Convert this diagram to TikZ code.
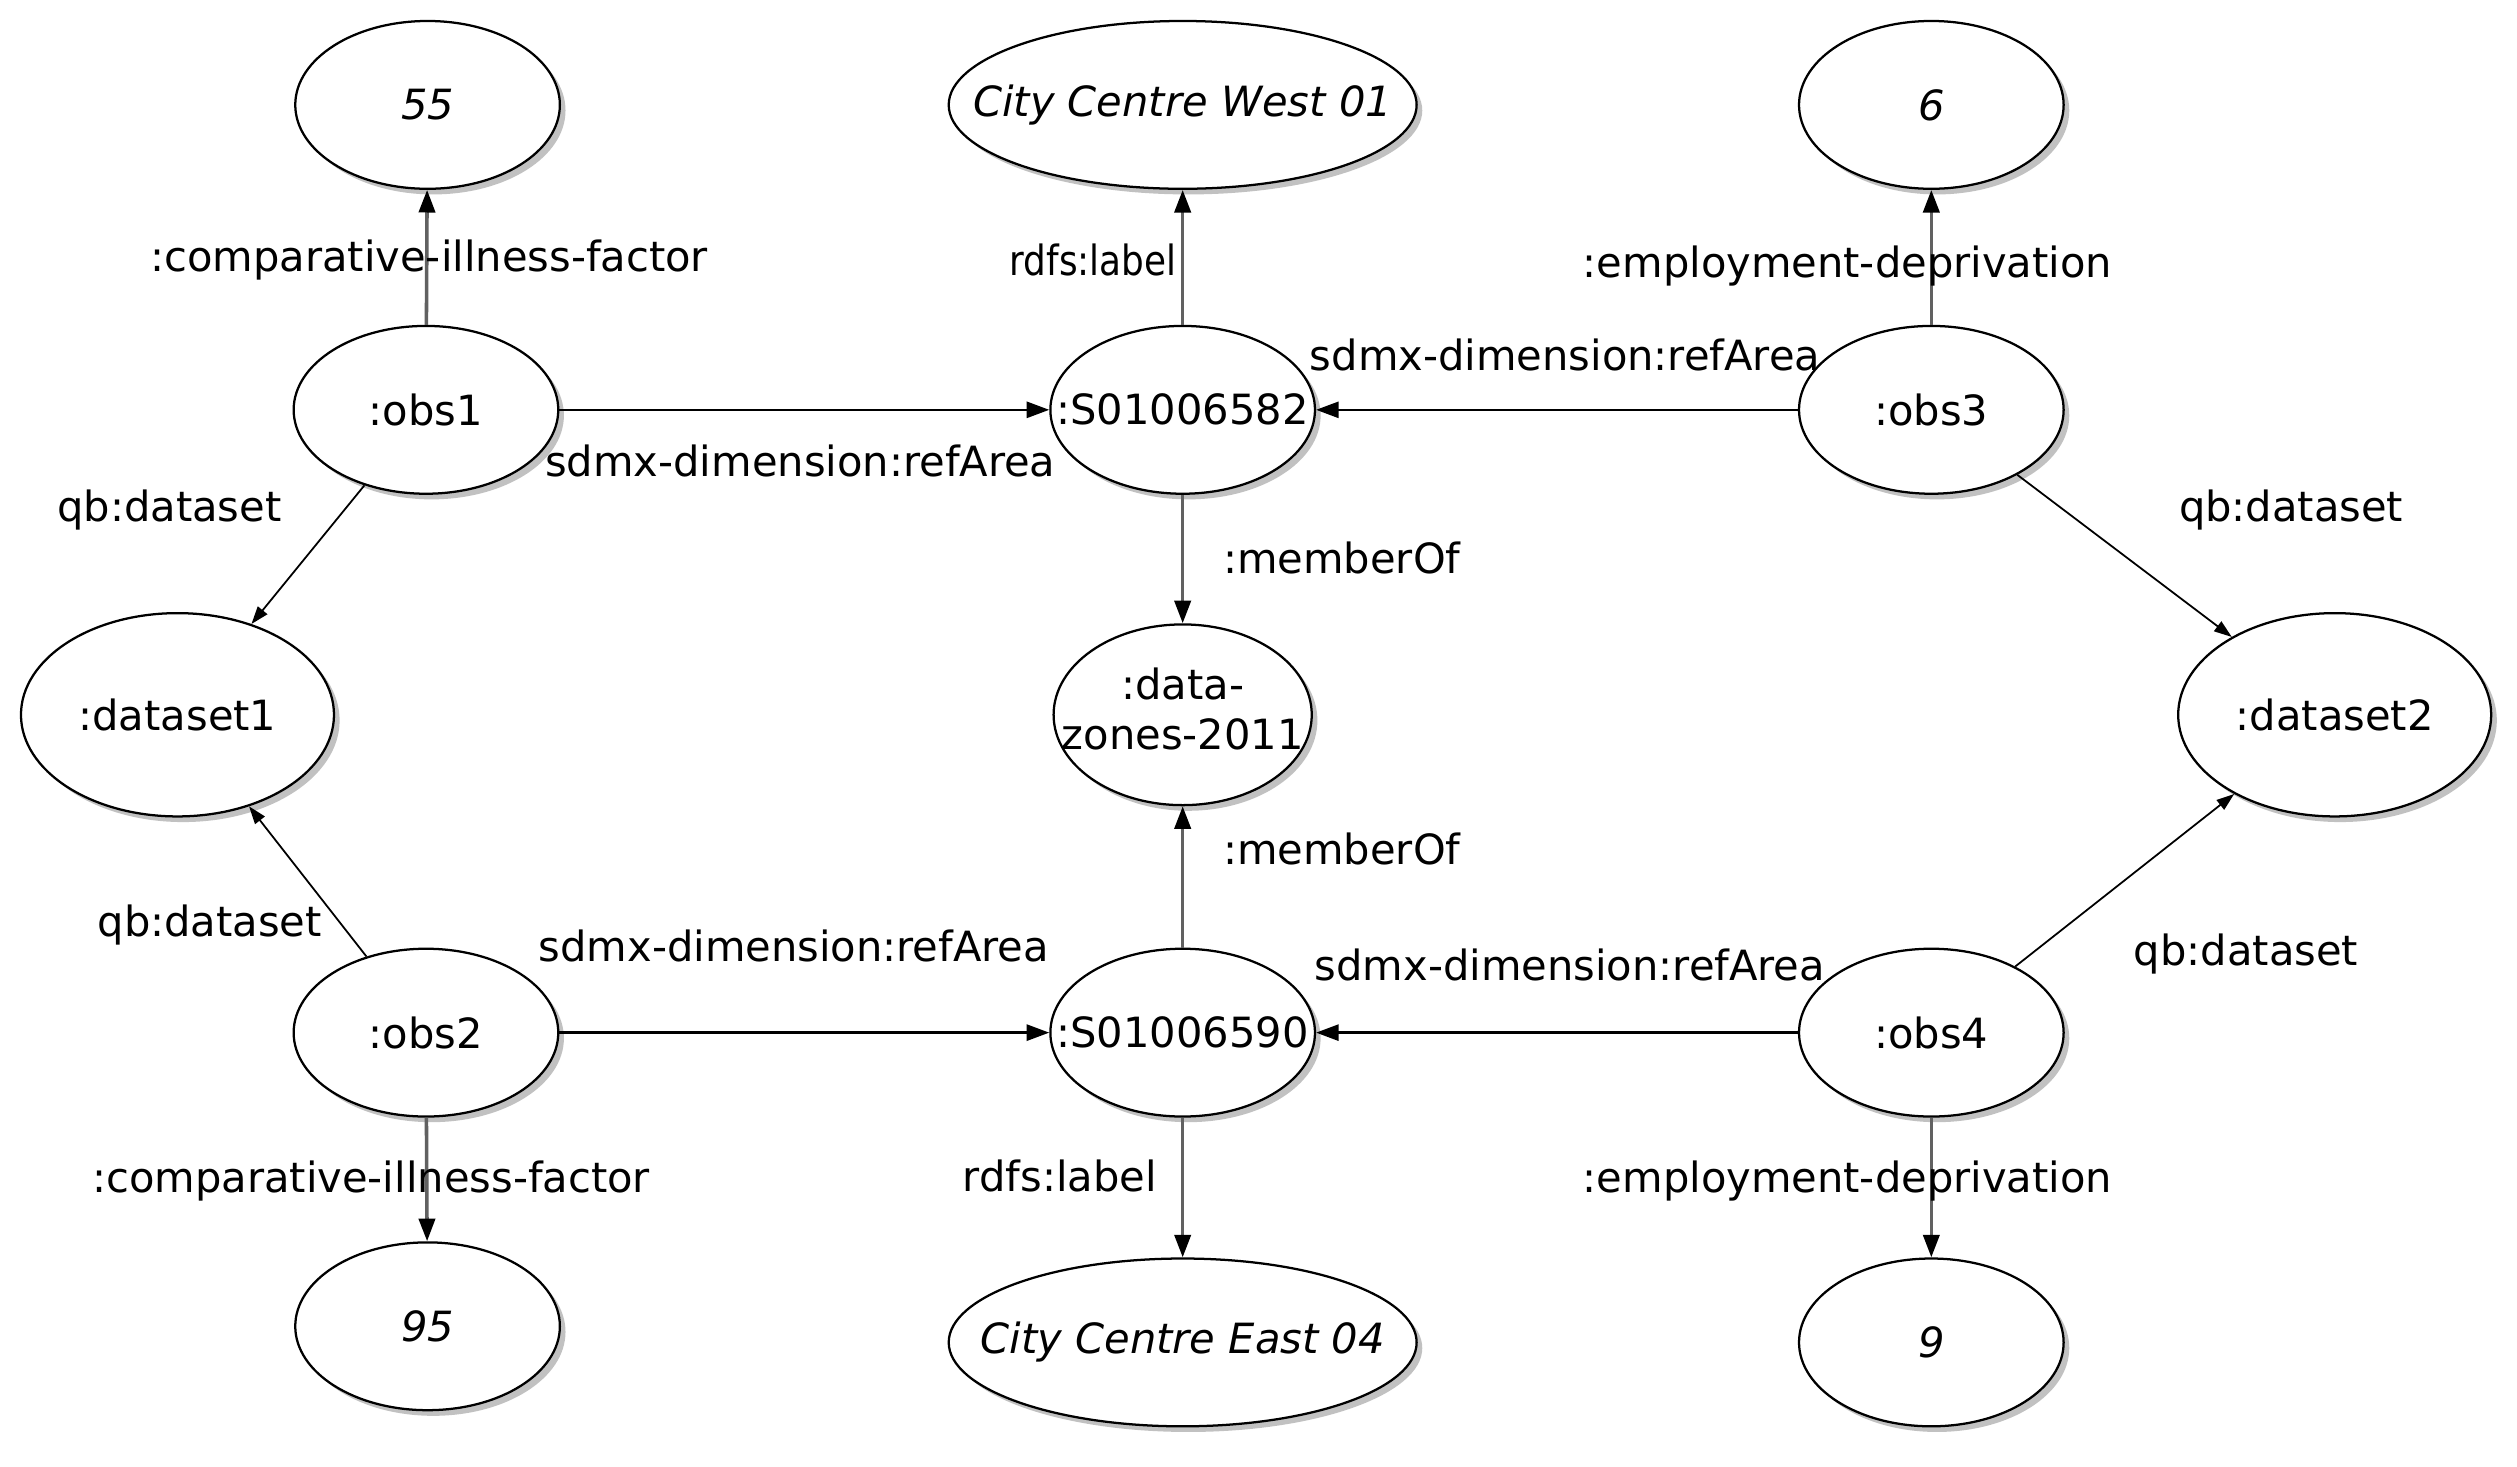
\documentclass[tikz,border=0pt]{standalone}
\usepackage{fontspec}
\setmainfont{DejaVu Sans}
\usetikzlibrary{shapes.geometric,arrows.meta,shadows}
\newcommand{\zw}[1]{\makebox[0pt][c]{#1}}
\begin{document}
\begin{tikzpicture}[x=1pt,y=-1pt,
  every node/.style={font=\fontsize{25.8}{31}\selectfont},
  res/.style={ellipse, draw=black, line width=1.4pt, fill=white, inner sep=0pt,
    minimum width=164pt, minimum height=104pt,
    drop shadow={shadow xshift=3.5pt, shadow yshift=-3.5pt, fill=black!40, opacity=0.6}},
  lit/.style={res, font=\fontsize{25.8}{31}\selectfont\itshape},
  arr/.style={-{Triangle[length=14pt,width=10pt,color=black]}, line width=1.5pt, draw=black},
  vert/.style={arr, draw=black!62, line width=2.2pt},
  diag/.style={-{Triangle[length=11pt,width=7.5pt,color=black]}, line width=1.1pt, draw=black},
  lbl/.style={inner sep=0pt}
]
\fill[white] (0,0) rectangle (1560,908.6);
\useasboundingbox (0,0) rectangle (1560,908.6);

% nodes
\node[lit] (n55) at (265,65) {\zw{55}};
\node[lit, minimum width=290pt] (ccw) at (733,65) {\zw{City Centre West 01}};
\node[lit] (n6) at (1197,65) {\zw{6}};
\node[res] (obs1) at (264,254) {\zw{:obs1}};
\node[res] (s82) at (733,254) {\zw{:S01006582}};
\node[res] (obs3) at (1197,254) {\zw{:obs3}};
\node[res, minimum width=194pt, minimum height=126pt] (ds1) at (110,443) {\zw{:dataset1}};
\node[res, minimum width=160pt, minimum height=112pt] (dz) at (733,443)
  {\zw{\begin{tabular}{@{}c@{}}:data-\\zones-2011\end{tabular}}};
\node[res, minimum width=194pt, minimum height=126pt] (ds2) at (1447,443) {\zw{:dataset2}};
\node[res] (obs2) at (264,640) {\zw{:obs2}};
\node[res] (s90) at (733,640) {\zw{:S01006590}};
\node[res] (obs4) at (1197,640) {\zw{:obs4}};
\node[lit] (n95) at (265,822) {\zw{95}};
\node[lit, minimum width=290pt] (cce) at (733,832) {\zw{City Centre East 04}};
\node[lit] (n9) at (1197,832) {\zw{9}};

% edges
\draw[vert] (obs1) -- (n55) node[lbl, at={(266,161)}] {:comparative-illness-factor};
\draw[vert] (s82) -- (ccw) node[lbl, anchor=east, at={(730,161)}, xscale=0.86] {rdfs:label};
\draw[vert] (obs3) -- (n6) node[lbl, at={(1145,165)}] {:employment-deprivation};
\draw[arr] (obs1) -- (s82) node[lbl, at={(496,286)}] {sdmx-dimension:refArea};
\draw[arr] (obs3) -- (s82) node[lbl, at={(970,220)}] {sdmx-dimension:refArea};
\draw[diag] (obs1) -- (ds1) node[lbl, at={(105,316)}] {qb:dataset};
\draw[vert] (s82) -- (dz) node[lbl, anchor=west, at={(757,346)}] {:memberOf};
\draw[diag] (obs3) -- (ds2) node[lbl, at={(1420,316)}] {qb:dataset};
\draw[vert] (s90) -- (dz) node[lbl, anchor=west, at={(757,526)}] {:memberOf};
\draw[diag] (obs2) -- (ds1) node[lbl, at={(130,573)}] {qb:dataset};
\draw[arr] (obs2) -- (s90) node[lbl, at={(492,586)}] {sdmx-dimension:refArea};
\draw[arr] (obs4) -- (s90) node[lbl, at={(973,598)}] {sdmx-dimension:refArea};
\draw[diag] (obs4) -- (ds2) node[lbl, at={(1392,591)}] {qb:dataset};
\draw[vert] (obs2) -- (n95) node[lbl, at={(230,732)}] {:comparative-illness-factor};
\draw[vert] (s90) -- (cce) node[lbl, anchor=east, at={(718,729)}] {rdfs:label};
\draw[vert] (obs4) -- (n9) node[lbl, at={(1145,732)}] {:employment-deprivation};
\end{tikzpicture}
\end{document}
